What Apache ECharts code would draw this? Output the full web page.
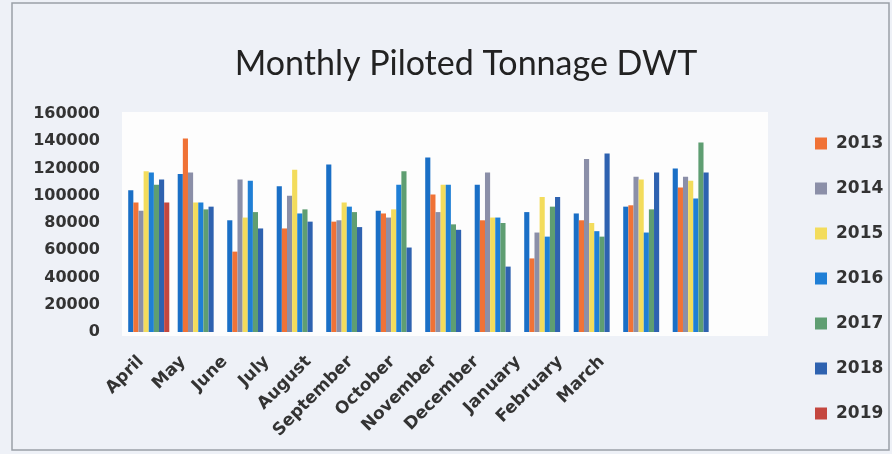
<!DOCTYPE html>
<html>
<head>
<meta charset="utf-8">
<script src="https://cdn.jsdelivr.net/npm/echarts@6/dist/echarts.min.js"></script>
<style>
html,body{margin:0;padding:0;background:#eef1f7;}
#chart{width:892px;height:454px;}
</style>
</head>
<body>
<div id="chart"></div>
<script>
const months = ['April','May','June','July','August','September','October','November','December','January','February','March'];
const yTicks = [0, 20000, 40000, 60000, 80000, 100000, 120000, 140000, 160000];
const legendYears = ['2013','2014','2015','2016','2017','2018','2019'];
// first series has no legend entry in the reference
const series0 = [104000,116000,82000,107000,123000,89000,128000,108000,88000,87000,92000,120000];
const s2013 = [95000,142000,59000,76000,81000,87000,101000,82000,54000,82000,93000,106000];
const s2014 = [89000,117000,112000,100000,82000,84000,88000,117000,73000,127000,114000,114000];
const s2015 = [118000,95000,84000,119000,95000,90000,108000,84000,99000,80000,112000,111000];
const s2016 = [117000,95000,111000,87000,92000,108000,108000,84000,70000,74000,73000,98000];
const s2017 = [108000,90000,88000,90000,88000,118000,79000,80000,92000,70000,90000,139000];
const s2018 = [112000,92000,76000,81000,77000,62000,75000,48000,99000,131000,117000,117000];
const s2019 = [95000,null,null,null,null,null,null,null,null,null,null,null];

const colors = {
  s0:'#1a6fc6','2013':'#f07236','2014':'#8b8fa8','2015':'#f3dc5c',
  '2016':'#1f7fd6','2017':'#5f9e72','2018':'#2e62b0','2019':'#c4473f'
};
const seriesData = [
  ['2012', series0, colors.s0],
  ['2013', s2013, colors['2013']],
  ['2014', s2014, colors['2014']],
  ['2015', s2015, colors['2015']],
  ['2016', s2016, colors['2016']],
  ['2017', s2017, colors['2017']],
  ['2018', s2018, colors['2018']],
  ['2019', s2019, colors['2019']]
];

const chart = echarts.init(document.getElementById('chart'));
const font = 'DejaVu Sans';
chart.setOption({
  animation:false,
  backgroundColor:'#eef1f7',
  graphic:[
    {type:'rect', z:-10, shape:{x:12,y:3,width:877,height:447}, style:{fill:'#eef1f7', stroke:'#9aa0a8', lineWidth:1.5}},
    {type:'rect', z:-9, shape:{x:122,y:112,width:646,height:224}, style:{fill:'#fdfdfd'}}
  ],
  title:{
    text:'Monthly Piloted Tonnage DWT',
    left:461, top:42, textAlign:'center',
    textStyle:{fontFamily:'Lato', fontSize:34, fontWeight:'normal', color:'#222'}
  },
  legend:{
    data:legendYears,
    orient:'vertical', left:810, top:130,
    itemWidth:12, itemHeight:12, itemGap:28, icon:'rect',
    textStyle:{fontFamily:font, fontSize:17, fontWeight:'bold', color:'#333', padding:[0,0,0,4]}
  },
  grid:[
    {left:124, right:174, top:114, bottom:122},
    {left:120, right:269, top:114, bottom:122}
  ],
  xAxis:[
    {type:'category', gridIndex:0, data:months, axisLabel:{show:false}, axisTick:{show:false}, axisLine:{show:false}},
    {type:'category', gridIndex:1, data:months, axisTick:{show:false}, axisLine:{show:false},
     axisLabel:{rotate:45, margin:27, interval:0, fontFamily:font, fontSize:17, fontWeight:'bold', color:'#333'}}
  ],
  yAxis:[
    {type:'value', gridIndex:0, min:yTicks[0], max:yTicks[yTicks.length-1], interval:yTicks[1]-yTicks[0],
     splitLine:{show:false}, axisLine:{show:false}, axisTick:{show:false},
     axisLabel:{margin:24, fontFamily:font, fontSize:16, fontWeight:'bold', color:'#333', formatter:v => String(v)}},
    {type:'value', gridIndex:1, min:0, max:1, show:false}
  ],
  series: seriesData.map(([name, data, color]) => ({
    name, type:'bar', data, xAxisIndex:0, yAxisIndex:0,
    barGap:'0%', barCategoryGap:'17%',
    itemStyle:{color}
  }))
});
</script>
</body>
</html>
